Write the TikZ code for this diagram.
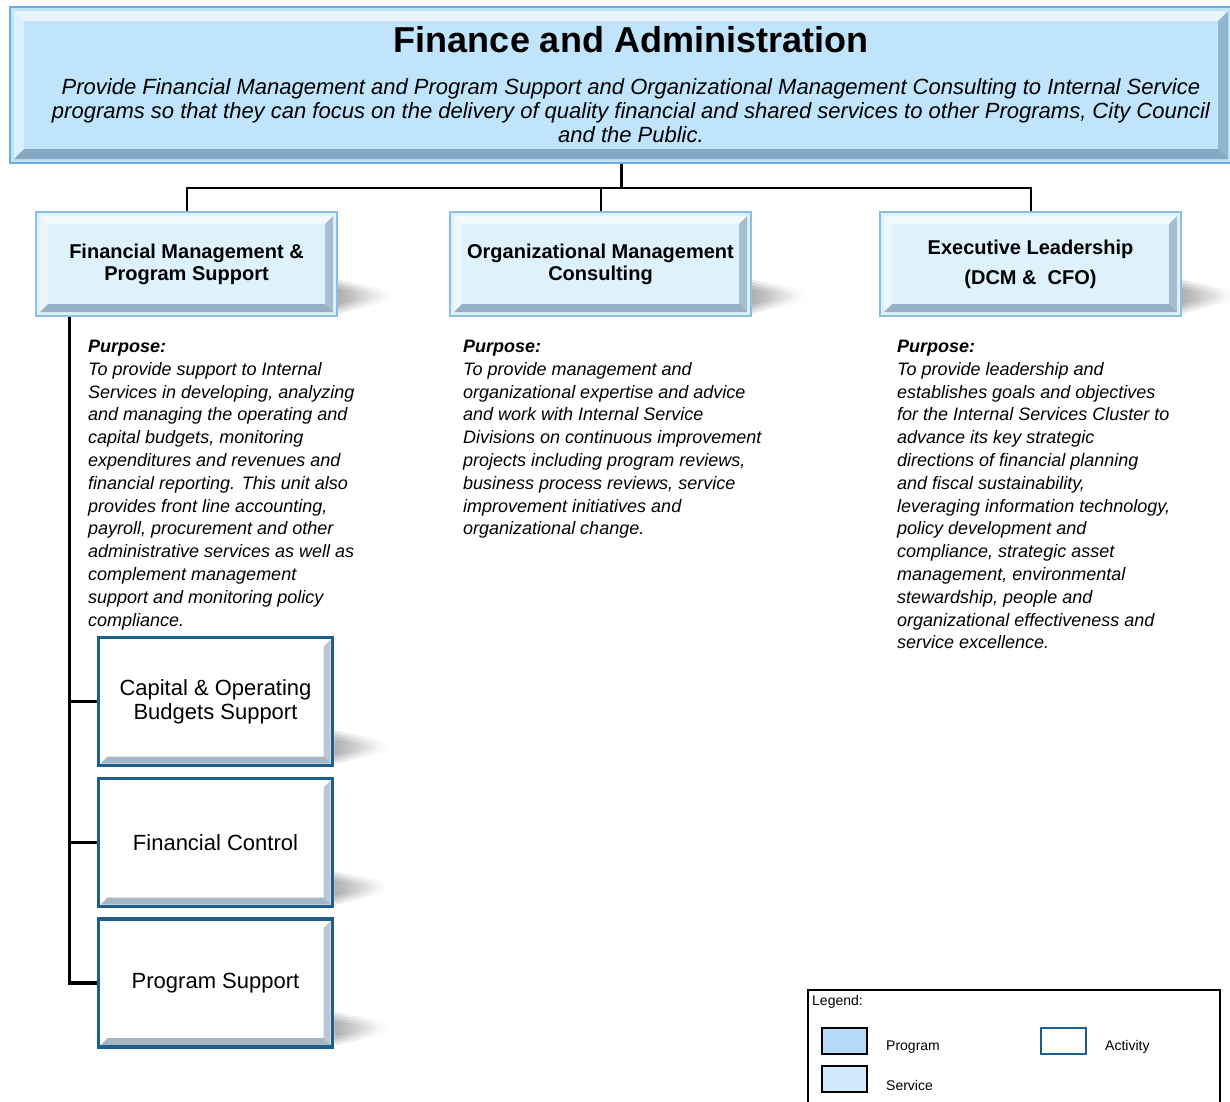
\documentclass[tikz,border=0pt]{standalone}
\usepackage{fontspec}
\setmainfont{Liberation Sans}
\usetikzlibrary{positioning,backgrounds,fadings}

\definecolor{progfill}{HTML}{BFE4FC}
\definecolor{progline}{HTML}{72A9DF}
\definecolor{svcfill}{HTML}{DEF2FD}
\definecolor{svcline}{HTML}{8BBDEA}
\definecolor{bevdark}{HTML}{3E5F80}
\definecolor{actline}{HTML}{1C5E8E}
\definecolor{legprog}{HTML}{B5DAF8}
\definecolor{legsvc}{HTML}{D3E9FB}

\tikzset{
  bevel/.style 2 args={path picture={
      \path ([shift={(#2,-#2)}]path picture bounding box.north west) coordinate (bnw)
            ([shift={(-#2,-#2)}]path picture bounding box.north east) coordinate (bne)
            ([shift={(#2,#2)}]path picture bounding box.south west) coordinate (bsw)
            ([shift={(-#2,#2)}]path picture bounding box.south east) coordinate (bse);
      \fill[white,opacity=.65] (bnw) -- (bne) -- ([shift={(-#1,-#1)}]bne) -- ([shift={(#1,-#1)}]bnw) -- cycle;
      \fill[white,opacity=.45] (bnw) -- (bsw) -- ([shift={(#1,#1)}]bsw) -- ([shift={(#1,-#1)}]bnw) -- cycle;
      \fill[bevdark,opacity=.45] (bsw) -- (bse) -- ([shift={(-#1,#1)}]bse) -- ([shift={(#1,#1)}]bsw) -- cycle;
      \fill[bevdark,opacity=.35] (bne) -- (bse) -- ([shift={(-#1,#1)}]bse) -- ([shift={(-#1,-#1)}]bne) -- cycle;
    }},
  prog/.style={draw=progline, line width=1.2pt, fill=progfill, bevel={10pt}{4pt}, inner sep=0pt},
  svc/.style={draw=svcline, line width=1.2pt, fill=svcfill, bevel={8pt}{4pt},
    minimum width=301pt, minimum height=104pt, align=center,
    font=\bfseries\fontsize{20}{22}\selectfont},
  act/.style={draw=actline, line width=3.5pt, fill=white, bevel={7pt}{2pt},
    minimum width=234pt, minimum height=128pt, align=center,
    font=\fontsize{22}{24}\selectfont},
  purpose/.style={anchor=north west, inner sep=0pt, align=left,
    font=\itshape\fontsize{18}{22.8}\selectfont},
  conn/.style={draw=black, line width=2pt},
  spine/.style={draw=black, line width=3.5pt},
  swatch/.style={draw=black, line width=1.4pt, minimum width=45pt, minimum height=26pt, inner sep=0pt},
  legtext/.style={anchor=west, inner sep=0pt, font=\fontsize{14}{16}\selectfont},
}

% soft shadow to the lower right of a box
\newcommand{\castshadow}[1]{%
  \foreach \g in {0,3,6,9}{
    \fill[black, opacity=.09, path fading=east]
      ([yshift={28+\g}]#1.south east) -- ([xshift={42+1.5*\g},yshift={22+.4*\g}]#1.south east)
      -- ([xshift={42+1.5*\g},yshift={20-.4*\g}]#1.south east) -- ([yshift={12-\g}]#1.south east) -- cycle;
  }}

\begin{document}
\begin{tikzpicture}[x=1pt,y=-1pt]
  \useasboundingbox (0,0) rectangle (1230,1101);

  % program box
  \node[prog, minimum width=1222pt, minimum height=156pt] (fa) at (621,85) {};
  \node[font=\bfseries\fontsize{36}{40}\selectfont] (title) at (631,40) {Finance and Administration};
  \node[align=center, font=\itshape\fontsize{22}{24}\selectfont] (mission) at (631,111)
    {Provide Financial Management and Program Support and Organizational Management Consulting to Internal Service\\
     programs so that they can focus on the delivery of quality financial and shared services to other Programs, City Council\\
     and the Public.};

  % services
  \node[svc] (fmps) at (186.5,264) {Financial Management \&\\Program Support};
  \node[svc] (omc) at (600.5,264) {Organizational Management\\Consulting};
  \node[svc] (exec) at (1030.5,264) {Executive Leadership\\[8pt](DCM \&\ \ CFO)};

  \coordinate (bus) at ([yshift=-24pt]fa.south);
  \draw[conn, line width=3pt] (fa.south) -- (bus);
  \draw[conn] (fmps.north) |- (bus) -| (exec.north);
  \draw[conn] (omc.north) -- (omc.north |- bus);

  % purposes
  \node[purpose] (pfmps) at (88,340) {\textbf{Purpose:}\\
    To provide support to Internal\\
    Services in developing, analyzing\\
    and managing the operating and\\
    capital budgets, monitoring\\
    expenditures and revenues and\\
    financial reporting. This unit also\\
    provides front line accounting,\\
    payroll, procurement and other\\
    administrative services as well as\\
    complement management\\
    support and monitoring policy\\
    compliance.};
  \node[purpose] (pomc) at (463,340) {\textbf{Purpose:}\\
    To provide management and\\
    organizational expertise and advice\\
    and work with Internal Service\\
    Divisions on continuous improvement\\
    projects including program reviews,\\
    business process reviews, service\\
    improvement initiatives and\\
    organizational change.};
  \node[purpose] (pexec) at (897,340) {\textbf{Purpose:}\\
    To provide leadership and\\
    establishes goals and objectives\\
    for the Internal Services Cluster to\\
    advance its key strategic\\
    directions of financial planning\\
    and fiscal sustainability,\\
    leveraging information technology,\\
    policy development and\\
    compliance, strategic asset\\
    management, environmental\\
    stewardship, people and\\
    organizational effectiveness and\\
    service excellence.};

  % activities
  \node[act] (cobs) at (215.5,701.5) {Capital \& Operating\\Budgets Support};
  \node[act] (fctl) at (215.5,842.5) {Financial Control};
  \node[act] (psup) at (215.5,983) {Program Support};

  \coordinate (spinetop) at ([xshift=34pt]fmps.south west);
  \draw[spine] (spinetop) |- (psup.west);
  \draw[spine] (fctl.west) -- (fctl.west -| spinetop);
  \draw[spine] (cobs.west) -- (cobs.west -| spinetop);

  \begin{scope}[on background layer]
    \castshadow{fmps}
    \castshadow{omc}
    \castshadow{exec}
    \castshadow{cobs}
    \castshadow{fctl}
    \castshadow{psup}
  \end{scope}

  % legend
  \draw[line width=1.2pt] (808,990) rectangle (1220,1115);
  \node[legtext] (legend) at (812,1002) {Legend:};
  \node[swatch, fill=legprog] (lprog) at (844.5,1041) {};
  \node[swatch, fill=legsvc] (lsvc) at (844.5,1079) {};
  \node[swatch, draw=actline, fill=white] (lact) at (1063.5,1041) {};
  \node[legtext] (tprog) at (886,1047) {Program};
  \node[legtext] (tsvc) at (886,1085) {Service};
  \node[legtext] (tact) at (1105,1047) {Activity};
\end{tikzpicture}
\end{document}
